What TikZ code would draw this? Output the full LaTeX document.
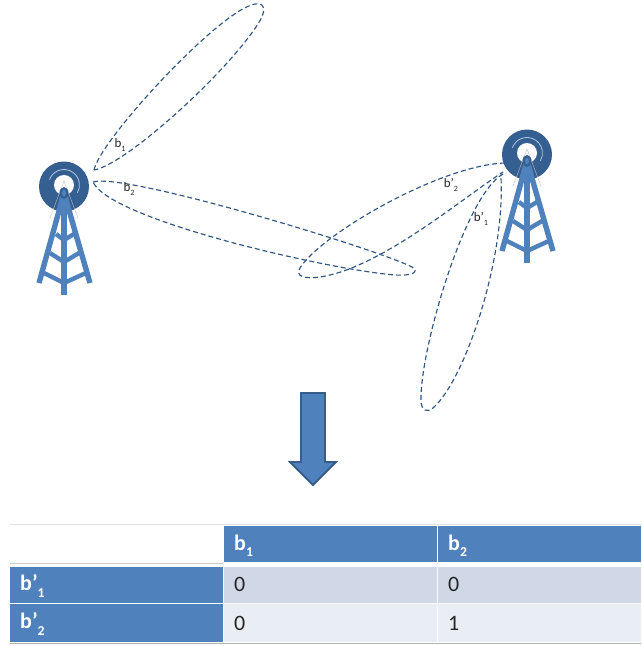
\documentclass[tikz,border=0pt]{standalone}
\usepackage{fontspec}
\setmainfont{Carlito}
\definecolor{towerblue}{HTML}{4F81BD}
\definecolor{towerdark}{HTML}{365F91}
\definecolor{beamblue}{HTML}{2F5583}
\definecolor{rowdark}{HTML}{D0D8E8}
\definecolor{rowlight}{HTML}{E9EDF4}
\definecolor{arrowedge}{HTML}{385D8A}
\newcommand{\lowsub}[1]{\raisebox{-0.28em}{\fontsize{0.62em}{0.62em}\selectfont #1}}
\tikzset{
    beam/.style={draw=beamblue,line width=1.15pt,dash pattern=on 5pt off 3pt},
    beamlabel/.style={font=\fontsize{13}{13}\selectfont,text=black!85,inner sep=0pt},
    headcell/.style={text=white,font=\fontsize{22}{22}\selectfont\bfseries,anchor=west,inner sep=0pt},
    datacell/.style={font=\fontsize{22}{22}\selectfont,text=black!85,anchor=west,inner sep=0pt},
    towerbar/.style={draw=towerblue,line width=5.4pt},
    pics/tower/.style={code={
        \fill [towerdark] (0,1.5) circle [radius=25];
        \draw [towerblue!45!white,line width=0.8pt] (0,0) ++(-160:15.5) arc [start angle=-160,end angle=30,radius=15.5];
        \fill [white] (0,0) circle [radius=10];
        \draw [black!25,line width=0.4pt] (0,-4)--(-14,33)--(14,33)--cycle;
        \draw [towerbar] (0,8)--(-25,98);
        \draw [towerbar] (0,8)--(26,98);
        \draw [towerbar] (0,8)--(0,110);
        \draw [towerbar,line width=4.4pt] (-8,49)--(0,55)--(10,49);
        \draw [towerbar,line width=4.4pt] (-14,68)--(0,77)--(15,68);
        \draw [towerbar,line width=4.4pt] (-22,87)--(0,98)--(24,87);
        \fill [towerdark] (0,8) ellipse [x radius=4.5,y radius=6];
        \fill [towerblue] (0,8) ellipse [x radius=2,y radius=3.5];
    }}
}
\begin{document}
\begin{tikzpicture}[x=1pt,y=-1pt]
    \useasboundingbox (0,0) rectangle (641,646);

    \pic at (64,185) {tower};
    \pic at (527,153) {tower};

    % beams
    \draw [beam] (94,170) .. controls (100,140) and (220,10) .. (255,4) .. controls (266,2) and (266,12) .. (258,24) .. controls (225,75) and (125,165) .. (94,170);
    \draw [beam] (93,182) .. controls (125,172) and (380,250) .. (412,267) .. controls (420,272) and (412,276) .. (395,275) .. controls (330,270) and (110,220) .. (93,182);
    \draw [beam] (505,163) .. controls (440,165) and (320,235) .. (300,268) .. controls (295,277) and (305,279) .. (320,277) .. controls (380,268) and (460,200) .. (503,172);
    \draw [beam] (503,174) .. controls (465,195) and (420,350) .. (421,400) .. controls (421,411) and (427,413) .. (433,408) .. controls (465,380) and (505,260) .. (501,178);

    \node (b1lab) [beamlabel] at (120,145) {b\lowsub{1}};
    \node (b2lab) [beamlabel] at (129,189) {b\lowsub{2}};
    \node (bp2lab) [beamlabel] at (451,185) {b’\lowsub{2}};
    \node (bp1lab) [beamlabel] at (481,219) {b’\lowsub{1}};

    % arrow
    \draw [fill=towerblue,draw=arrowedge,line width=1.8pt,line join=miter] (301,393)--(325,393)--(325,462)--(336,462)--(313,485)--(290,462)--(301,462)--cycle;

    % table
    \draw [black!12,line width=1pt] (10,524.5)--(641,524.5);
    \draw [black!20,line width=1pt] (10,563)--(223,563);
    \draw [black!30,line width=1pt] (10,643)--(641,643);
    \fill [towerblue] (224,526) rectangle (437,562);
    \fill [towerblue] (438,526) rectangle (641,562);
    \fill [towerblue] (10,567) rectangle (223,603);
    \fill [towerblue] (10,604) rectangle (223,642);
    \fill [rowdark] (224,567) rectangle (437,603);
    \fill [rowdark] (438,567) rectangle (641,603);
    \fill [rowlight] (224,604) rectangle (437,642);
    \fill [rowlight] (438,604) rectangle (641,642);

    \node (c1) [headcell] at (234,546) {b\lowsub{1}};
    \node (c2) [headcell] at (448,546) {b\lowsub{2}};
    \node (r1) [headcell] at (20,586) {b’\lowsub{1}};
    \node (r2) [headcell] at (20,624) {b’\lowsub{2}};
    \node (v11) [datacell] at (234,584) {0};
    \node (v12) [datacell] at (448,584) {0};
    \node (v21) [datacell] at (234,623) {0};
    \node (v22) [datacell] at (448,623) {1};
\end{tikzpicture}
\end{document}
